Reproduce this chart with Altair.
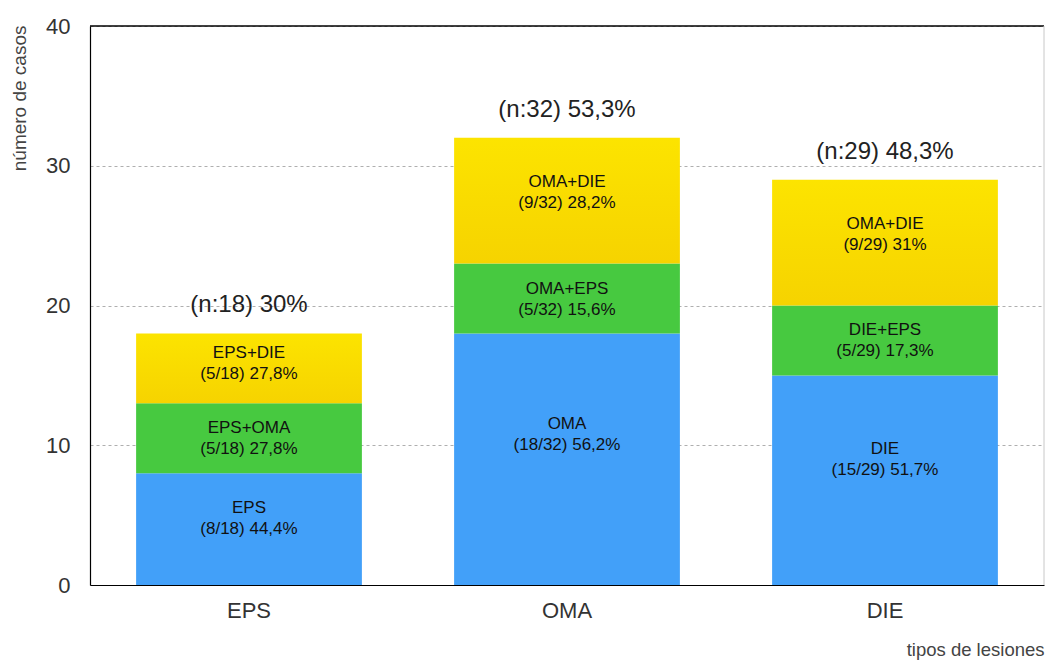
import altair as alt
import pandas as pd

# Lesion groups on the x axis
groups = ["EPS", "OMA", "DIE"]
totals = [18, 32, 29]
group_pct = ["30%", "53,3%", "48,3%"]

# Stacked segments per group: single lesion, then the two combinations
seg_names = [
    ["EPS", "EPS+OMA", "EPS+DIE"],
    ["OMA", "OMA+EPS", "OMA+DIE"],
    ["DIE", "DIE+EPS", "OMA+DIE"],
]
seg_counts = [[8, 5, 5], [18, 5, 9], [15, 5, 9]]
seg_pct = [
    ["44,4%", "27,8%", "27,8%"],
    ["56,2%", "15,6%", "28,2%"],
    ["51,7%", "17,3%", "31%"],
]
# where the label sits inside each stacked level (fraction of the segment from its base)
label_frac = [0.6, 0.5, 0.57]

BLUE = "#42A0F9"
GREEN = "#47C940"
FONT = "Liberation Sans"

rows = []
for g, total, names, counts, pcts in zip(groups, totals, seg_names, seg_counts, seg_pct):
    cum = 0
    for lvl, (name, c, p) in enumerate(zip(names, counts, pcts)):
        rows.append({
            "group": g,
            "level": lvl,
            "start": cum,
            "end": cum + c,
            "label_y": cum + label_frac[lvl] * c,
            "label": f"{name}\n({c}/{total}) {p}",
            "fill": [BLUE, GREEN, "#F9DC00"][lvl],
        })
        cum += c
segs = pd.DataFrame(rows)

tops = pd.DataFrame({
    "group": groups,
    "total": totals,
    "text": [f"(n:{t}) {p}" for t, p in zip(totals, group_pct)],
})

W, H = 954, 559
YTITLE = "número de casos"
XTITLE = "tipos de lesiones"

x_scale = alt.Scale(paddingInner=0.29, paddingOuter=0.145)
x_axis = alt.Axis(
    labelAngle=0, labelFontSize=22, labelColor="#333", labelFont=FONT,
    labelPadding=15, ticks=False, domainColor="#000", domainWidth=1.2,
    titleFontSize=18.5, titleFont=FONT, titleFontWeight="normal", titleColor="#444",
    titleAnchor="end", titleAlign="right", titleX=W, titleY=64,
    titleBaseline="middle",
)
y_scale = alt.Scale(domain=[0, 40], nice=False)
y_axis = alt.Axis(
    values=[0, 10, 20, 30, 40], ticks=False, domainColor="#000", domainWidth=1.2,
    labelFontSize=22, labelColor="#333", labelFont=FONT, labelPadding=20,
    grid=True, gridDash=[3, 3], gridColor="#9a9a9a", gridWidth=0.8,
    titleFontSize=19, titleFont=FONT, titleFontWeight="normal", titleColor="#444",
    titleAngle=-90, titleAnchor="end", titleAlign="right", titleBaseline="middle",
    titleX=-71, titleY=-1,
)


def xe():
    return alt.X("group:N", sort=groups, title=XTITLE, scale=x_scale, axis=x_axis)


def ye(field):
    return alt.Y(field, scale=y_scale, title=YTITLE, axis=y_axis)


base_segs = alt.Chart(segs)

lower = base_segs.transform_filter("datum.level < 2").mark_bar().encode(
    x=xe(),
    y=ye("start:Q"),
    y2="end:Q",
    color=alt.Color("fill:N", scale=None),
)

yellow = alt.LinearGradient(
    gradient="linear",
    stops=[
        alt.GradientStop(offset=0, color="#FCE400"),
        alt.GradientStop(offset=1, color="#F6D300"),
    ],
    x1=0, x2=0, y1=0, y2=1,
)
upper = base_segs.transform_filter("datum.level == 2").mark_bar(color=yellow).encode(
    x=xe(),
    y=ye("start:Q"),
    y2="end:Q",
)

seg_text = base_segs.mark_text(
    font=FONT, fontSize=17, color="#111", lineBreak="\n", lineHeight=21,
    baseline="middle", align="center", dy=-10,
).encode(
    x=xe(),
    y=ye("label_y:Q"),
    text="label:N",
)

top_text = alt.Chart(tops).mark_text(
    font=FONT, fontSize=24, color="#222", baseline="middle", align="center", dy=-28,
).encode(
    x=xe(),
    y=ye("total:Q"),
    text="text:N",
)

one = pd.DataFrame({"k": [0]})
top_rule = alt.Chart(one).mark_rule(color="#000", strokeWidth=1.5).encode(
    x=alt.value(0), x2=alt.value(W), y=alt.value(0)
)
right_rule = alt.Chart(one).mark_rule(color="#c8c8c8", strokeWidth=1).encode(
    x=alt.value(W), y=alt.value(0), y2=alt.value(H)
)

chart = alt.layer(lower, upper, seg_text, top_text, top_rule, right_rule).properties(
    width=W, height=H,
    padding={"left": 90, "top": 26, "right": 2, "bottom": 75},
    autosize=alt.AutoSizeParams(type="none"),
).configure_view(stroke=None)

chart.save("out.html", embed_options={"renderer": "svg", "actions": False})
